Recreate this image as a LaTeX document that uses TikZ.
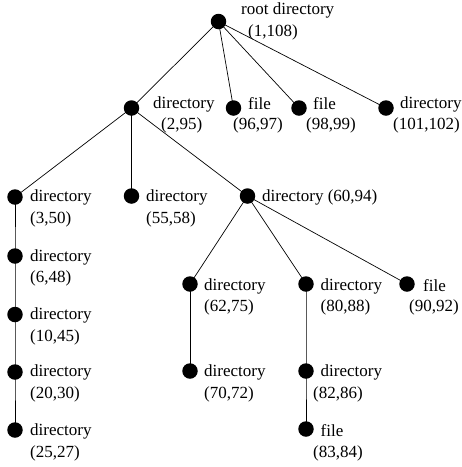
\documentclass[tikz,border=0pt]{standalone}
\usepackage{fontspec}
\setmainfont{Liberation Serif}
\usetikzlibrary{backgrounds}
\begin{document}
\begin{tikzpicture}[x=1pt,y=-1pt,
  dot/.style={circle,fill=black,inner sep=0pt,minimum size=15.5pt},
  lbl/.style={anchor=west,inner sep=0pt,font=\fontsize{17}{21}\selectfont},
  edge/.style={line width=0.7pt}]
\useasboundingbox (0,0) rectangle (462,467);
% dots
\node[dot] (r) at (218.5,21.5) {};
\node[dot] (a) at (131.5,108) {};
\node[dot] (f1) at (233.5,108) {};
\node[dot] (f2) at (299,108) {};
\node[dot] (d1) at (386,108) {};
\node[dot] (b1) at (15,197) {};
\node[dot] (b2) at (131.5,196) {};
\node[dot] (b3) at (247.5,196) {};
\node[dot] (c1) at (15,256) {};
\node[dot] (c2) at (15,314.5) {};
\node[dot] (c3) at (15,372) {};
\node[dot] (c4) at (15,430) {};
\node[dot] (e1) at (190,284) {};
\node[dot] (e2) at (190,371) {};
\node[dot] (g1) at (306,284) {};
\node[dot] (g2) at (306,371) {};
\node[dot] (g3) at (306,429) {};
\node[dot] (h1) at (407,284) {};
% edges
\begin{scope}[on background layer]
\draw[edge] (r.center) -- (a.center) (r.center) -- (f1.center) (r.center) -- (f2.center) (r.center) -- (d1.center);
\draw[edge] (a.center) -- (b1.center) (a.center) -- (b2.center) (a.center) -- (b3.center);
\draw[edge] (b1.center) -- (c1.center) -- (c2.center) -- (c3.center) -- (c4.center);
\draw[edge] (b3.center) -- (e1.center) (b3.center) -- (g1.center) (b3.center) -- (h1.center);
\draw[edge] (e1.center) -- (e2.center);
\draw[edge] (g1.center) -- (g2.center) -- (g3.center);
\end{scope}
% labels
\node[lbl] (rl1) at (241,10) {root directory};
\node[lbl] (rl2) at (248,32) {(1,108)};
\node[lbl] (al1) at (153,104) {directory};
\node[lbl] (al2) at (161,125) {(2,95)};
\node[lbl] (f1l1) at (248,104) {file};
\node[lbl] (f1l2) at (233,125) {(96,97)};
\node[lbl] (f2l1) at (313,104) {file};
\node[lbl] (f2l2) at (306,125) {(98,99)};
\node[lbl] (d1l1) at (400,104) {directory};
\node[lbl] (d1l2) at (393,125) {(101,102)};
\node[lbl] (b1l1) at (30,197) {directory};
\node[lbl] (b1l2) at (30,219) {(3,50)};
\node[lbl] (b2l1) at (146,197) {directory};
\node[lbl] (b2l2) at (146,219) {(55,58)};
\node[lbl] (b3l1) at (262,197) {directory (60,94)};
\node[lbl] (c1l1) at (30,257) {directory};
\node[lbl] (c1l2) at (30,278) {(6,48)};
\node[lbl] (c2l1) at (30,315) {directory};
\node[lbl] (c2l2) at (30,337) {(10,45)};
\node[lbl] (c3l1) at (30,372) {directory};
\node[lbl] (c3l2) at (30,394) {(20,30)};
\node[lbl] (c4l1) at (30,431) {directory};
\node[lbl] (c4l2) at (30,453) {(25,27)};
\node[lbl] (e1l1) at (204,286) {directory};
\node[lbl] (e1l2) at (204,307) {(62,75)};
\node[lbl] (e2l1) at (204,372) {directory};
\node[lbl] (e2l2) at (204,394) {(70,72)};
\node[lbl] (g1l1) at (320.5,286) {directory};
\node[lbl] (g1l2) at (320.5,307) {(80,88)};
\node[lbl] (g2l1) at (320.5,372) {directory};
\node[lbl] (g2l2) at (313,394) {(82,86)};
\node[lbl] (g3l1) at (320.5,431) {file};
\node[lbl] (g3l2) at (313,453) {(83,84)};
\node[lbl] (h1l1) at (423,286) {file};
\node[lbl] (h1l2) at (409,307) {(90,92)};
\end{tikzpicture}
\end{document}
